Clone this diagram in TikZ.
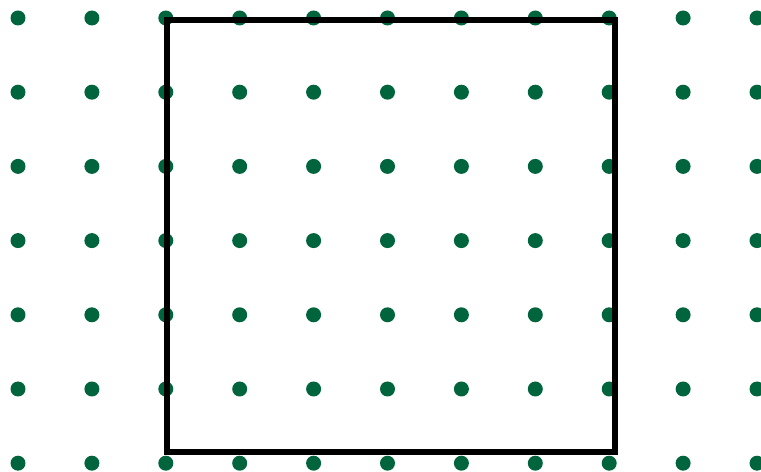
\documentclass[tikz,border=0pt]{standalone}
\usepackage{tikz}
\usepackage{xcolor}
\definecolor{DotGreen}{RGB}{0,100,60}
\tikzset{
  griddot/.style={fill=DotGreen},
  frame/.style={draw=black, line width=3.4pt}
}

\begin{document}
\begin{tikzpicture}[x=0.02cm, y=-0.02cm]
  \useasboundingbox (0,0) rectangle (761,472);

  % dot lattice
  \foreach \i in {0,...,10}{
    \foreach \j in {0,...,6}{
      \fill[griddot] ({18+73.9*\i},{18+74.2*\j}) circle (0.15cm);
    }
  }

  % square frame
  \draw[frame] (167,20) rectangle (615,452);
\end{tikzpicture}
\end{document}
